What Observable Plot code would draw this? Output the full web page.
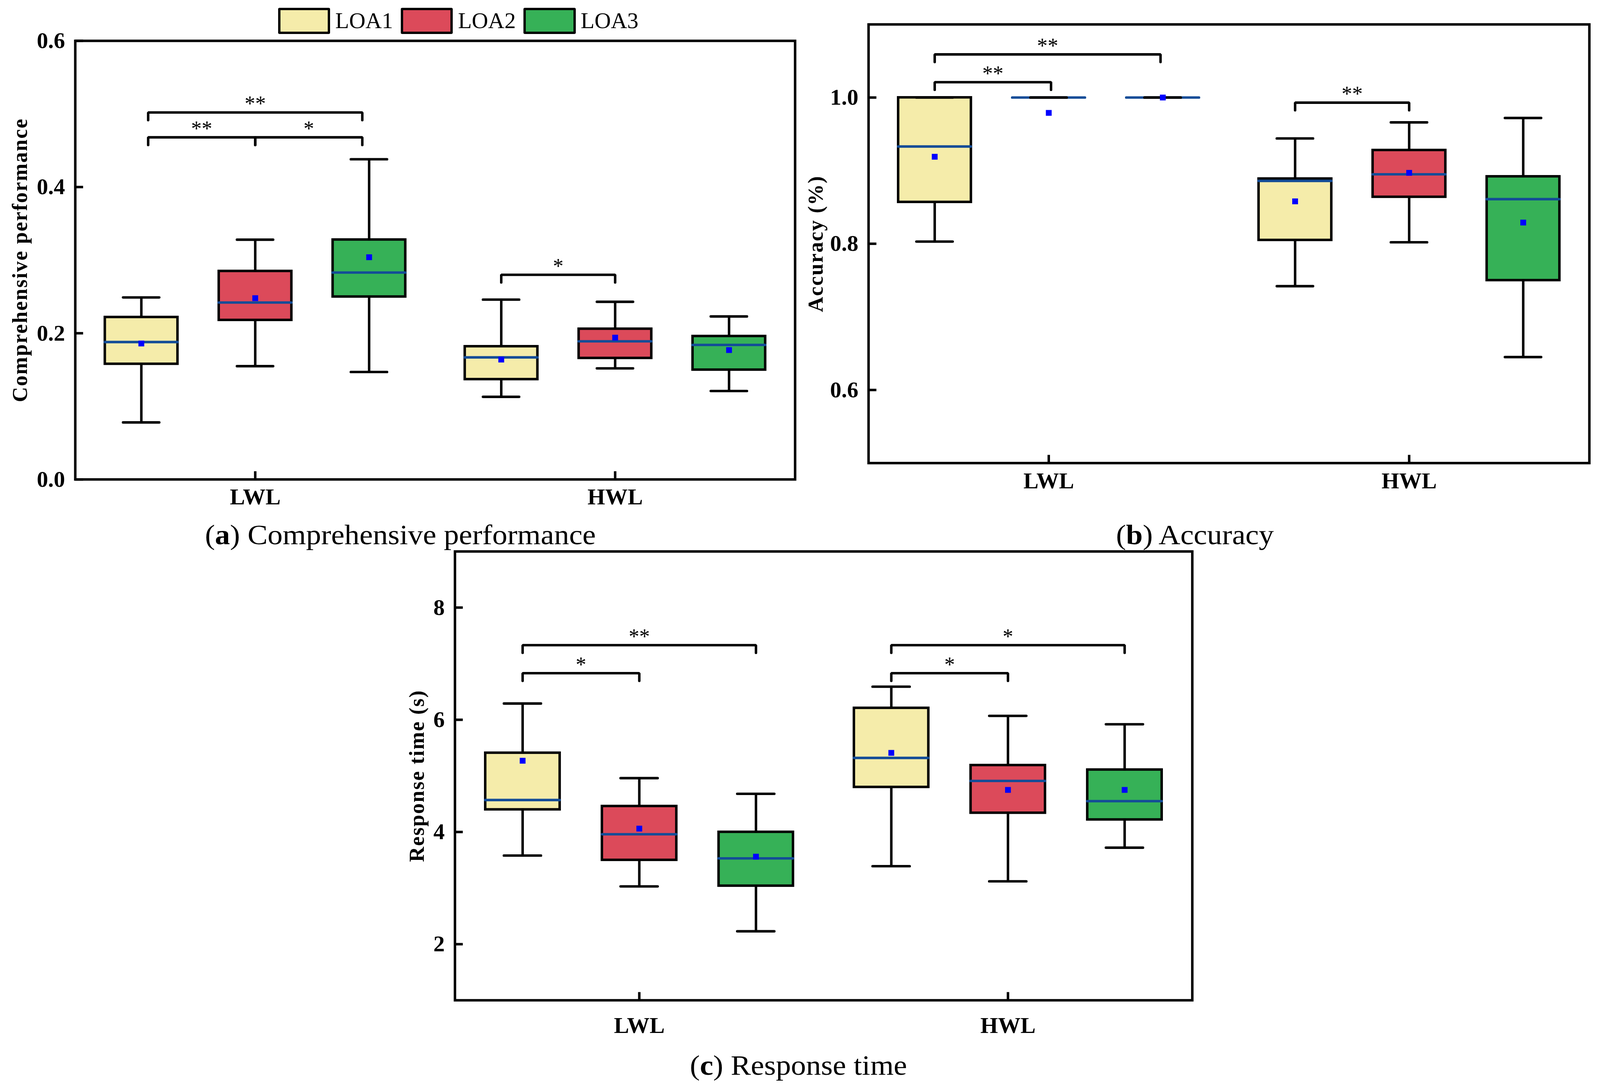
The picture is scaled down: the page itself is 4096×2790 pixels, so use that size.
<!DOCTYPE html>
<html><head><meta charset="utf-8">
<script src="https://cdn.jsdelivr.net/npm/d3@7"></script>
<script src="https://cdn.jsdelivr.net/npm/@observablehq/plot@0.6"></script>
<style>
html,body{margin:0;padding:0;background:#fff;}
#root{position:relative;width:4096px;height:2790px;overflow:hidden;background:#fff;font-family:"Liberation Serif","Times New Roman",serif;color:#000;}
.panel{position:absolute;}
.caption{position:absolute;white-space:nowrap;transform:translate(-50%,-50%) scaleX(1.085);line-height:1;}
#legend{position:absolute;display:flex;align-items:center;}
.sw{box-sizing:border-box;border-style:solid;border-color:#000;}
</style></head><body><div id="root"></div>
<script>
const S = 0.934;
const FONT = '"Liberation Serif","Times New Roman",serif';

// ---------- data ----------
const groups = ["LWL", "HWL"];
const series = ["LOA1", "LOA2", "LOA3"];
const seriesColors = ["#F5ECAA", "#DC4A5A", "#36B157"];

// order of the six boxes: LWL LOA1, LWL LOA2, LWL LOA3, HWL LOA1, HWL LOA2, HWL LOA3
const perfMin  = [0.078, 0.155, 0.147, 0.113, 0.152, 0.121];
const perfQ1   = [0.158, 0.218, 0.250, 0.137, 0.166, 0.150];
const perfMed  = [0.188, 0.242, 0.283, 0.167, 0.189, 0.184];
const perfQ3   = [0.222, 0.285, 0.328, 0.182, 0.206, 0.196];
const perfMax  = [0.249, 0.328, 0.438, 0.246, 0.243, 0.223];
const perfMean = [0.186, 0.248, 0.304, 0.164, 0.194, 0.177];
const perfTicks = [0.0, 0.2, 0.4, 0.6];
// shiftA / shiftB: small horizontal offsets of the bracket ends (series units)
const perfBrackets = [
  {g: 0, from: 0, to: 2, shiftA: 0.06, shiftB: -0.06, y: 0.502, label: "**"},
  {g: 0, from: 0, to: 1, shiftA: 0.06, shiftB: 0, y: 0.468, label: "**"},
  {g: 0, from: 1, to: 2, shiftA: 0, shiftB: -0.06, y: 0.468, label: "*"},
  {g: 1, from: 0, to: 1, shiftA: 0, shiftB: 0, y: 0.280, label: "*"}
];

const accMin  = [0.803, 1.000, 1.000, 0.742, 0.802, 0.645];
const accQ1   = [0.857, 1.000, 1.000, 0.805, 0.864, 0.750];
const accMed  = [0.933, 1.000, 1.000, 0.886, 0.895, 0.861];
const accQ3   = [1.000, 1.000, 1.000, 0.889, 0.928, 0.892];
const accMax  = [1.000, 1.000, 1.000, 0.944, 0.966, 0.972];
const accMean = [0.919, 0.979, 1.000, 0.858, 0.897, 0.829];
const accTicks = [0.6, 0.8, 1.0];
const accBrackets = [
  {g: 0, from: 0, to: 2, shiftA: 0, shiftB: -0.02, y: 1.059, label: "**"},
  {g: 0, from: 0, to: 1, shiftA: 0, shiftB: 0.02, y: 1.021, label: "**"},
  {g: 1, from: 0, to: 1, shiftA: 0, shiftB: 0, y: 0.993, label: "**"}
];

const rtMin  = [3.58, 3.03, 2.23, 3.39, 3.12, 3.72];
const rtQ1   = [4.40, 3.50, 3.04, 4.80, 4.34, 4.22];
const rtMed  = [4.57, 3.96, 3.53, 5.32, 4.91, 4.55];
const rtQ3   = [5.41, 4.46, 4.00, 6.21, 5.19, 5.11];
const rtMax  = [6.29, 4.96, 4.68, 6.59, 6.07, 5.92];
const rtMean = [5.27, 4.06, 3.56, 5.41, 4.75, 4.75];
const rtTicks = [2, 4, 6, 8];
const rtBrackets = [
  {g: 0, from: 0, to: 2, shiftA: 0, shiftB: 0, y: 7.33, label: "**"},
  {g: 0, from: 0, to: 1, shiftA: 0, shiftB: 0, y: 6.83, label: "*"},
  {g: 1, from: 0, to: 2, shiftA: 0, shiftB: 0, y: 7.33, label: "*"},
  {g: 1, from: 0, to: 1, shiftA: 0, shiftB: 0, y: 6.83, label: "*"}
];

// ---------- layout ----------
const GROUP_GAP = 3.16;
const X_DOMAIN = [-1.58, GROUP_GAP + 1.58];
const BOX_HW = 0.319, CAP_HW = 0.159;
const xpos = (g, s) => g * GROUP_GAP + (s - 1);

const root = document.getElementById("root");

function drawPanel(p) {
  const [x0, y0, x1, y1] = p.frame; // reference pixel frame
  const padL = 300, padR = 30, padT = 90, padB = 130;
  const fw = (x1 - x0) * S, fh = (y1 - y0) * S;
  const width = fw + (padL + padR) * S, height = fh + (padT + padB) * S;
  const rows = d3.range(6).map(i => ({
    g: Math.floor(i / 3), s: i % 3, pos: xpos(Math.floor(i / 3), i % 3),
    name: series[i % 3],
    min: p.min[i], q1: p.q1[i], med: p.med[i], q3: p.q3[i], max: p.max[i], mean: p.mean[i]
  }));
  const ySpan = p.yDomain[1] - p.yDomain[0];
  const drop = 21 * ySpan / (y1 - y0);
  const bracketPts = p.brackets.flatMap((b, k) => {
    const xa = xpos(b.g, b.from) + b.shiftA, xb = xpos(b.g, b.to) + b.shiftB;
    return [{k, x: xa, y: b.y - drop}, {k, x: xa, y: b.y}, {k, x: xb, y: b.y}, {k, x: xb, y: b.y - drop}];
  });
  const bracketLabels = p.brackets.map(b => ({x: (xpos(b.g, b.from) + b.shiftA + xpos(b.g, b.to) + b.shiftB) / 2, y: b.y, label: b.label}));
  const groupRows = groups.map((name, g) => ({name, pos: xpos(g, 1)}));
  const lw = 6.8 * S;

  const chart = Plot.plot({
    width, height,
    marginLeft: padL * S, marginRight: padR * S, marginTop: padT * S, marginBottom: padB * S,
    x: {domain: X_DOMAIN, axis: null},
    y: {domain: p.yDomain, axis: null},
    color: {domain: series, range: seriesColors},
    style: {fontFamily: FONT, background: "transparent", overflow: "visible", color: "black"},
    marks: [
      Plot.rect(rows, {x1: d => d.pos - BOX_HW, x2: d => d.pos + BOX_HW, y1: "q1", y2: "q3", fill: "name", stroke: "black", strokeWidth: lw}),
      Plot.ruleY(rows, {y: "med", x1: d => d.pos - BOX_HW, x2: d => d.pos + BOX_HW, stroke: "#134C97", strokeWidth: lw, strokeLinecap: "round"}),
      Plot.ruleX(rows, {x: "pos", y1: "q3", y2: "max", stroke: "black", strokeWidth: lw}),
      Plot.ruleX(rows, {x: "pos", y1: "q1", y2: "min", stroke: "black", strokeWidth: lw}),
      Plot.ruleY(rows, {y: "max", x1: d => d.pos - CAP_HW, x2: d => d.pos + CAP_HW, stroke: "black", strokeWidth: lw, strokeLinecap: "round"}),
      Plot.ruleY(rows, {y: "min", x1: d => d.pos - CAP_HW, x2: d => d.pos + CAP_HW, stroke: "black", strokeWidth: lw, strokeLinecap: "round"}),
      Plot.dot(rows, {x: "pos", y: "mean", symbol: "square", r: 8.4, fill: "#0000FF"}),
      Plot.line(bracketPts, {x: "x", y: "y", z: "k", stroke: "black", strokeWidth: lw, strokeLinecap: "round", strokeLinejoin: "miter"}),
      Plot.text(bracketLabels, {x: "x", y: "y", text: "label", lineAnchor: "bottom", dy: -5 * S, fontSize: 58 * S, fill: "black"}),
      Plot.frame({stroke: "black", strokeWidth: lw}),
      Plot.tickY(p.ticks, {y: d => d, stroke: "black", strokeWidth: lw, insetRight: fw - 22 * S}),
      Plot.tickX(groupRows, {x: "pos", stroke: "black", strokeWidth: lw, insetTop: fh - 22 * S}),
      Plot.text(p.ticks, {y: d => d, text: p.tickFormat, frameAnchor: "left", textAnchor: "end", dx: -28 * S, fontSize: 62 * S, fontWeight: "bold", fill: "black"}),
      Plot.text(groupRows, {x: "pos", text: "name", frameAnchor: "bottom", lineAnchor: "bottom", dy: p.xLabelDy * S, fontSize: 62 * S, fontWeight: "bold", fill: "black"}),
      Plot.text([p.yLabel], {text: d => d, frameAnchor: "left", textAnchor: "middle", lineAnchor: "middle", rotate: -90, dx: -p.yLabelOffset * S, fontSize: 58 * S, fontWeight: "bold", fill: "black"})
    ]
  });
  chart.querySelectorAll("text").forEach(t => {
    if (t.textContent === p.yLabel) t.style.letterSpacing = (2.4 * S) + "px";
  });
  const wrap = document.createElement("div");
  wrap.className = "panel";
  wrap.style.left = ((x0 - padL) * S) + "px";
  wrap.style.top = ((y0 - padT) * S) + "px";
  wrap.appendChild(chart);
  root.appendChild(wrap);
}

drawPanel({frame: [206, 111, 2179, 1313], yDomain: [0, 0.6], ticks: perfTicks, tickFormat: d3.format(".1f"),
  min: perfMin, q1: perfQ1, med: perfMed, q3: perfQ3, max: perfMax, mean: perfMean, brackets: perfBrackets,
  yLabel: "Comprehensive performance", yLabelOffset: 151, xLabelDy: 68});
drawPanel({frame: [2380, 66, 4357, 1269], yDomain: [0.5, 1.1], ticks: accTicks, tickFormat: d3.format(".1f"),
  min: accMin, q1: accQ1, med: accMed, q3: accQ3, max: accMax, mean: accMean, brackets: accBrackets,
  yLabel: "Accuracy (%)", yLabelOffset: 144, xLabelDy: 69});
drawPanel({frame: [1247, 1511, 3268, 2741], yDomain: [1, 9], ticks: rtTicks, tickFormat: d3.format("d"),
  min: rtMin, q1: rtQ1, med: rtMed, q3: rtQ3, max: rtMax, mean: rtMean, brackets: rtBrackets,
  yLabel: "Response time (s)", yLabelOffset: 104, xLabelDy: 90});

// ---------- legend ----------
const legend = document.createElement("div");
legend.id = "legend";
legend.style.left = (762 * S) + "px";
legend.style.top = (21 * S) + "px";
series.forEach((name, i) => {
  const sw = document.createElement("div");
  sw.className = "sw";
  sw.style.width = (143 * S) + "px";
  sw.style.height = (72 * S) + "px";
  sw.style.borderWidth = (7 * S) + "px";
  sw.style.borderRadius = (4 * S) + "px";
  sw.style.background = seriesColors[i];
  sw.style.marginLeft = (i === 0 ? 0 : 21 * S) + "px";
  const tx = document.createElement("span");
  tx.textContent = name;
  tx.style.fontSize = (62 * S) + "px";
  tx.style.marginLeft = (14 * S) + "px";
  tx.style.lineHeight = "1";
  legend.appendChild(sw);
  legend.appendChild(tx);
});
root.appendChild(legend);

// ---------- captions ----------
const captions = [
  {tag: "a", text: "Comprehensive performance", cx: 1097, cy: 1466},
  {tag: "b", text: "Accuracy", cx: 3275, cy: 1466},
  {tag: "c", text: "Response time", cx: 2188, cy: 2920}
];
captions.forEach(c => {
  const d = document.createElement("div");
  d.className = "caption";
  d.style.left = (c.cx * S) + "px";
  d.style.top = (c.cy * S) + "px";
  d.style.fontSize = (76 * S) + "px";
  d.innerHTML = "(<b>" + c.tag + "</b>) " + c.text;
  root.appendChild(d);
});
</script></body></html>
